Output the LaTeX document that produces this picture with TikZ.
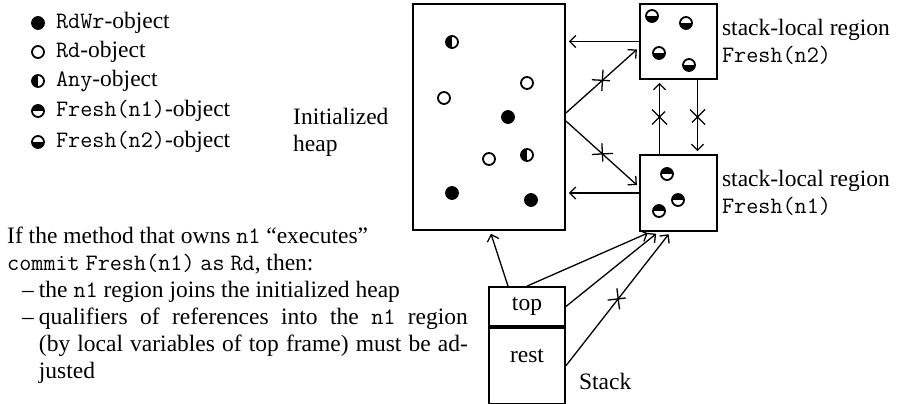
\documentclass[tikz,border=0pt]{standalone}
\usepackage{fontspec}
\setmainfont{Liberation Serif}
\usetikzlibrary{arrows.meta,positioning,decorations.markings}

\begin{document}
\begin{tikzpicture}[x=1pt, y=-1pt, > = {Straight Barb[length=6pt,width=12pt]},
    every node/.style = {font=\fontsize{23.5}{27}\selectfont},
    region/.style = {draw, line width=1.8pt, inner sep=0pt},
    obj/.style = {circle, draw, line width=1.8pt, minimum size=12pt, inner sep=0pt},
    rdwrobj/.style = {obj, fill=black},
    rdobj/.style = {obj, fill=white},
    anyobj/.style = {obj, path picture={\fill (path picture bounding box.north west) rectangle (path picture bounding box.south);}},
    freshone/.style = {obj, path picture={\fill (path picture bounding box.north west) rectangle (path picture bounding box.east);}},
    freshtwo/.style = {obj, path picture={\fill (path picture bounding box.west) rectangle (path picture bounding box.south east);}},
    ref/.style = {->, line width=1.3pt, shorten >=3pt},
    noref/.style = {ref, postaction={decorate}, decoration={markings, mark=at position 0.5 with {\draw[-, line width=1.3pt] (-7.5pt,-7.5pt) -- (7.5pt,7.5pt) (-7.5pt,7.5pt) -- (7.5pt,-7.5pt);}}}]

    \useasboundingbox (0,0) rectangle (903,404);

    % legend
    \node[rdwrobj] (keyrdwr) at (38,23) {};
    \node[right=9pt of keyrdwr, inner sep=2pt] (keyrdwrtext) {\texttt{RdWr}-object};
    \node[rdobj] (keyrd) at (38,52) {};
    \node[right=9pt of keyrd, inner sep=2pt] (keyrdtext) {\texttt{Rd}-object};
    \node[anyobj] (keyany) at (38,81) {};
    \node[right=9pt of keyany, inner sep=2pt] (keyanytext) {\texttt{Any}-object};
    \node[freshone] (keyfreshone) at (38,111) {};
    \node[right=9pt of keyfreshone, inner sep=2pt] (keyfreshonetext) {\texttt{Fresh(n1)}-object};
    \node[freshtwo] (keyfreshtwo) at (38,142) {};
    \node[right=9pt of keyfreshtwo, inner sep=2pt] (keyfreshtwotext) {\texttt{Fresh(n2)}-object};

    % regions
    \node[region, minimum width=152pt, minimum height=226pt] (heap) at (489,117) {};
    \node[anchor=west, align=left, inner sep=0pt] (heaplabel) at (293,132) {Initialized\\heap};
    \node[region, minimum width=77pt, minimum height=75pt] (n2) at (678.5,41.5) {};
    \node[right=4pt of n2, align=left, inner sep=0pt] (n2label) {stack-local region\\\texttt{Fresh(n2)}};
    \node[region, minimum width=77pt, minimum height=76pt] (n1) at (678.5,193) {};
    \node[right=4pt of n1, align=left, inner sep=0pt] (n1label) {stack-local region\\\texttt{Fresh(n1)}};

    % objects
    \node[anyobj] (h1) at (452,42) {};
    \node[rdobj] (h2) at (527,83) {};
    \node[rdobj] (h3) at (444,98) {};
    \node[rdwrobj] (h4) at (508,117) {};
    \node[rdobj] (h5) at (489,159) {};
    \node[anyobj] (h6) at (527,155) {};
    \node[rdwrobj] (h7) at (452,193) {};
    \node[rdwrobj] (h8) at (531,200) {};
    \node[freshtwo] (b1) at (652,16) {};
    \node[freshtwo] (b2) at (686,23) {};
    \node[freshtwo] (b3) at (659,53) {};
    \node[freshtwo] (b4) at (689,65) {};
    \node[freshone] (a1) at (667,174) {};
    \node[freshone] (a2) at (678,200) {};
    \node[freshone] (a3) at (659,211) {};

    % stack
    \node[region, minimum width=76pt, minimum height=39pt] (top) at (527,306.5) {top};
    \node[region, minimum width=76pt, minimum height=76pt, anchor=north] (rest) at (top.south) {};
    \node (restlabel) at ([yshift=-29pt]rest.north) {rest};
    \node[anchor=west, inner sep=0pt] (stacklabel) at ([xshift=13pt, yshift=-16pt]rest.east) {Stack};

    % references
    \draw[ref] (n2.west) -- (n2.west -| heap.east);
    \draw[ref] (n1.west) -- (n1.west -| heap.east);
    \draw[noref] ([yshift=4pt]heap.east) -- ([yshift=-6pt]n2.west);
    \draw[noref] ([yshift=-4pt]heap.east) -- ([yshift=6pt]n1.west);
    \draw[noref] ([xshift=-19pt]n1.north) -- ([xshift=-19pt]n2.south);
    \draw[noref] ([xshift=19pt]n2.south) -- ([xshift=19pt]n1.north);
    \draw[ref] ([xshift=-19pt]top.north) -- ([xshift=1pt]heap.south);
    \draw[ref] (top.north) -- ([xshift=-28pt]n1.south);
    \draw[ref] (top.east) -- ([xshift=-20pt]n1.south);
    \draw[noref] (rest.east) -- ([xshift=-8pt]n1.south);

    % commit note
    \node[anchor=north west, align=left, inner sep=0pt] (note) at (7,227) {If the method that owns \texttt{n1} “executes”\\
        \texttt{commit} \texttt{Fresh(n1)} \texttt{as} \texttt{Rd}, then:\\
        \hspace*{15pt}\textendash\hspace*{5pt}the \texttt{n1} region joins the initialized heap\\
        \hspace*{15pt}\textendash\hspace*{5pt}\makebox[429pt][s]{qualifiers of references into the \texttt{n1} region}\\
        \hspace*{31.75pt}\makebox[429pt][s]{(by local variables of top frame) must be ad-}\\
        \hspace*{31.75pt}justed};
\end{tikzpicture}
\end{document}
